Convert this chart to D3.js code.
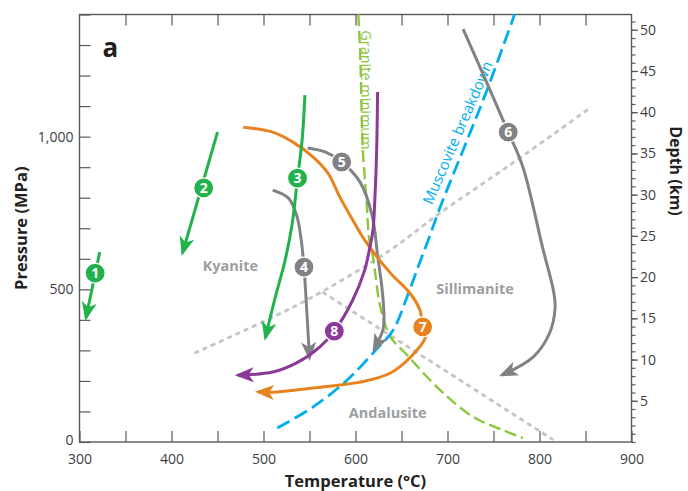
<!DOCTYPE html>
<html>
<head>
<meta charset="utf-8">
<script src="https://cdn.jsdelivr.net/npm/d3@7"></script>
<style>
  body { margin: 0; background: #fff; }
  text { font-family: "Open Sans", "Noto Sans", sans-serif; }
</style>
</head>
<body>
<div id="chart"></div>
<script>
// P-T paths, each point is [temperature (C), pressure (MPa)]
const path1 = [[322, 622], [307, 406]];
const path2 = [[450, 1015], [412, 619]];
const path3 = [[545, 1136], [542, 989], [537, 864], [531, 711], [523, 589], [512, 465], [502, 341]];
const path4 = [[510, 825], [527, 799], [536, 743], [541, 661], [544, 573], [547, 432], [550, 275]];
const path5 = [[548, 963], [567, 950], [585, 917], [605, 851], [618, 743], [624, 612], [629, 498], [631, 406], [630, 370], [620, 301]];
const path6 = [[717, 1352], [739, 1202], [766, 1015], [782, 900], [804, 629], [815, 498], [817, 442], [811, 357], [793, 278], [759, 219]];
const path7 = [[478, 1031], [510, 1015], [532, 982], [554, 933], [570, 881], [583, 802], [597, 727], [610, 661], [638, 553], [659, 488], [670, 432], [673, 377], [676, 344], [662, 285], [638, 226], [605, 196], [583, 187], [554, 177], [515, 164], [494, 164]];
const path8 = [[624, 1146], [623, 956], [621, 792], [619, 694], [615, 629], [610, 563], [597, 465], [577, 363], [561, 311], [536, 259], [510, 229], [472, 219]];

const pathNames = ["1", "2", "3", "4", "5", "6", "7", "8"];
const pathColors = ["#22b24c", "#22b24c", "#22b24c", "#808285", "#808285", "#808285", "#e8821e", "#8b3a97"];
// where the number badge sits on each path
const badgeAt = [[317, 553], [435, 832], [537, 864], [544, 573], [585, 917], [766, 1015], [673, 377], [577, 363]];

// reaction curves
const graniteMin = [[603, 1401], [605, 1284], [608, 956], [612, 792], [615, 661], [619, 606], [627, 442], [638, 344], [656, 285], [692, 170], [728, 82], [760, 39], [782, 13]];
const muscovite = [[515, 46], [554, 115], [591, 203], [622, 301], [641, 367], [656, 475], [668, 573], [679, 661], [692, 769], [717, 956], [743, 1153], [773, 1401]];
const kySil = [[425, 291], [515, 416], [567, 498], [638, 629], [692, 750], [771, 914], [855, 1094]];
const andSil = [[564, 491], [815, 7]];

const tempTicks = d3.range(300, 901, 50);
const pressTicks = d3.range(0, 1401, 100);
const depthTicks = d3.range(0, 52, 1);
const depthLabels = [5, 10, 15, 20, 25, 30, 35, 40, 45, 50];

const W = 688, H = 491;
const margin = {top: 14.5, right: 56.5, bottom: 49, left: 79.5};

const svg = d3.select('#chart').append('svg')
  .attr('width', W).attr('height', H);

const x = d3.scaleLinear().domain([300, 900]).range([margin.left, W - margin.right]);
const y = d3.scaleLinear().domain([0, 1400]).range([H - margin.bottom, margin.top]);
const yDepth = d3.scaleLinear().domain([0, 1400 / 27]).range([H - margin.bottom, margin.top]);

const frameCol = '#58595b';
const labCol = '#3d3d3f';

// axes, ticks pointing inward
const gx = svg.append('g').attr('transform', `translate(0,${y(0)})`)
  .call(d3.axisBottom(x).tickValues(tempTicks).tickSizeInner(-11).tickSizeOuter(0).tickPadding(12)
    .tickFormat(d => d % 100 === 0 ? d : ''));
const gxTop = svg.append('g').attr('transform', `translate(0,${y(1400)})`)
  .call(d3.axisTop(x).tickValues(tempTicks.slice(1, -1)).tickSizeInner(-11).tickSizeOuter(0).tickFormat(''));
const gy = svg.append('g').attr('transform', `translate(${x(300)},0)`)
  .call(d3.axisLeft(y).tickValues(pressTicks).tickSizeInner(-11).tickSizeOuter(0).tickPadding(6)
    .tickFormat(d => d % 500 === 0 ? d3.format(',')(d) : ''));
const gdMinor = svg.append('g').attr('transform', `translate(${x(900)},0)`)
  .call(d3.axisRight(yDepth).tickValues(depthTicks).tickSizeInner(4).tickSizeOuter(0).tickFormat(''));
const gdMajor = svg.append('g').attr('transform', `translate(${x(900)},0)`)
  .call(d3.axisRight(yDepth).tickValues(depthLabels).tickSizeInner(6.5).tickSizeOuter(0).tickPadding(2));

[gx, gxTop, gy, gdMinor, gdMajor].forEach(g => {
  g.select('.domain').remove();
  g.selectAll('line').attr('stroke', frameCol).attr('stroke-width', 1.2);
  g.selectAll('text').attr('fill', labCol).attr('font-size', 14);
});
// lift the "0" a touch so it clears the "300"
gy.selectAll('.tick text').filter(d => d === 0).attr('dy', '0.2em');

svg.append('rect')
  .attr('x', x(300)).attr('y', y(1400))
  .attr('width', x(900) - x(300)).attr('height', y(0) - y(1400))
  .attr('fill', 'none').attr('stroke', frameCol).attr('stroke-width', 1.4);

// axis titles
svg.append('text').attr('x', (x(300) + x(900)) / 2).attr('y', 487)
  .attr('text-anchor', 'middle').attr('font-weight', 'bold').attr('font-size', 16.5).attr('fill', '#231f20')
  .text('Temperature (°C)');
svg.append('text').attr('transform', `translate(27,${(y(0) + y(1400)) / 2}) rotate(-90)`)
  .attr('text-anchor', 'middle').attr('font-weight', 'bold').attr('font-size', 16.5).attr('fill', '#231f20')
  .text('Pressure (MPa)');
svg.append('text').attr('transform', `translate(670,171) rotate(90)`)
  .attr('text-anchor', 'middle').attr('font-weight', 'bold').attr('font-size', 16).attr('fill', '#231f20')
  .text('Depth (km)');

svg.append('text').attr('x', x(325)).attr('y', y(1260))
  .attr('font-weight', 'bold').attr('font-size', 26).attr('fill', '#231f20').text('a');

const line = d3.line().x(d => x(d[0])).y(d => y(d[1])).curve(d3.curveCatmullRom.alpha(0.5));

// aluminosilicate boundaries (dotted)
svg.selectAll('.alsi').data([kySil, andSil]).join('path')
  .attr('class', 'alsi')
  .attr('d', line)
  .attr('fill', 'none').attr('stroke', '#c4c5c7').attr('stroke-width', 2.8)
  .attr('stroke-dasharray', '5,4');

// phase field names
const regionNames = ['Kyanite', 'Sillimanite', 'Andalusite'];
const regionAt = [[464, 576], [730, 501], [635, 95]];
svg.selectAll('.region').data(regionNames).join('text')
  .attr('class', 'region')
  .attr('x', (d, i) => x(regionAt[i][0]))
  .attr('y', (d, i) => y(regionAt[i][1]))
  .attr('dy', '0.35em')
  .attr('text-anchor', 'middle').attr('font-weight', 'bold').attr('font-size', 14.5)
  .attr('fill', '#9c9ea1')
  .text(d => d);

// granite minimum and muscovite breakdown
svg.append('path').attr('d', line(graniteMin))
  .attr('fill', 'none').attr('stroke', '#8dc63f').attr('stroke-width', 2.4)
  .attr('stroke-dasharray', '12,5');
svg.append('path').attr('d', line(muscovite))
  .attr('fill', 'none').attr('stroke', '#00aeef').attr('stroke-width', 2.8)
  .attr('stroke-dasharray', '14,6');

svg.append('text')
  .attr('transform', `translate(${x(612)},${y(1153)}) rotate(90)`)
  .attr('text-anchor', 'middle').attr('dy', '0.35em').attr('font-size', 14.5).attr('fill', '#8dc63f')
  .text('Granite minimum');
svg.append('text')
  .attr('transform', `translate(${x(711)},${y(1013)}) rotate(-66.7)`)
  .attr('text-anchor', 'middle').attr('dy', '0.35em').attr('font-size', 15).attr('fill', '#00aeef')
  .text('Muscovite breakdown');

// arrowheads, one per colour
const defs = svg.append('defs');
const colors = Array.from(new Set(pathColors));
colors.forEach((c, i) => {
  defs.append('marker')
    .attr('id', 'arr' + i)
    .attr('viewBox', '-18 -9 22 18')
    .attr('refX', 0).attr('refY', 0)
    .attr('markerWidth', 22).attr('markerHeight', 18)
    .attr('markerUnits', 'userSpaceOnUse')
    .attr('orient', 'auto')
    .append('path')
    .attr('d', 'M3,0 L-16,-7.5 L-11,0 L-16,7.5 Z')
    .attr('fill', c);
});

const paths = [path1, path2, path3, path4, path5, path6, path7, path8];
const drawOrder = [0, 1, 3, 4, 5, 6, 2, 7];

svg.selectAll('.pt').data(drawOrder).join('path')
  .attr('class', 'pt')
  .attr('d', i => line(paths[i]))
  .attr('fill', 'none')
  .attr('stroke', i => pathColors[i])
  .attr('stroke-width', 3)
  .attr('marker-end', i => `url(#arr${colors.indexOf(pathColors[i])})`);

// numbered badges
const badge = svg.selectAll('.badge').data(pathNames).join('g')
  .attr('class', 'badge')
  .attr('transform', (d, i) => `translate(${x(badgeAt[i][0])},${y(badgeAt[i][1])})`);
badge.append('circle').attr('r', 10)
  .attr('fill', (d, i) => pathColors[i]).attr('stroke', '#fff').attr('stroke-width', 1.2);
badge.append('text').attr('text-anchor', 'middle').attr('dy', '0.36em')
  .attr('font-weight', 'bold').attr('font-size', 14).attr('fill', '#fff')
  .text(d => d);
</script>
</body>
</html>
